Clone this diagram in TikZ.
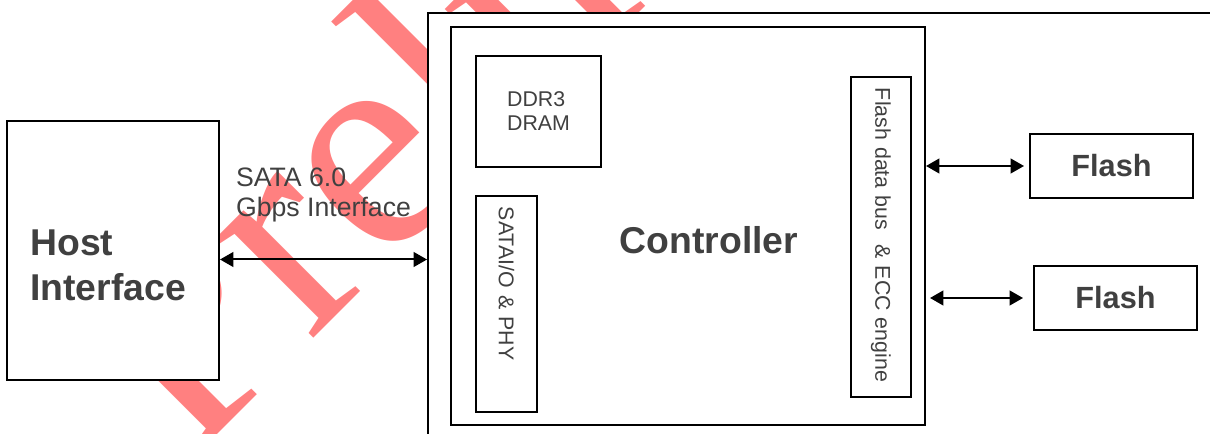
\documentclass[tikz,border=0pt]{standalone}
\usepackage{fontspec}
\setmainfont{Liberation Sans}
\newfontfamily\wmfont{Liberation Serif}
\usetikzlibrary{arrows.meta, positioning}

\definecolor{txtgray}{HTML}{404040}
\definecolor{wmred}{HTML}{FF8080}

\begin{document}
\begin{tikzpicture}[
  x=0.75pt, y=-0.75pt,
  box/.style={draw, line width=1.5pt, fill=white, inner sep=0pt},
  vbox/.style={box, rotate=-90, align=left, inner xsep=8.25pt, inner ysep=0pt, font=\fontsize{16}{18}\selectfont, text=txtgray},
  smalltxt/.style={font=\fontsize{16}{18}\selectfont, text=txtgray},
  bigtxt/.style={font=\fontsize{28}{33.75}\selectfont\bfseries, text=txtgray, inner sep=0pt},
  flashtxt/.style={font=\fontsize{23}{26}\selectfont\bfseries, text=txtgray},
  wmark/.style={font=\wmfont\fontsize{228}{228}\selectfont, text=wmred, inner sep=0pt},
  arrow/.style={{Triangle[length=10pt,width=11pt]}-{Triangle[length=10pt,width=11pt]}, line width=1.5pt}
]

% page frame
\useasboundingbox (0,0) rectangle (1210,434);
\clip (0,0) rectangle (1210,434);

% watermark, behind the boxes
\node[wmark, rotate=45, anchor=base west] (wm) at (190,462) {Preliminary};

% Host
\node[box, minimum width=159pt, minimum height=194.25pt] (host) at (113,250.5) {};
\node[bigtxt, align=left, anchor=north west] (hostlbl) at (30,230) {Host\\Interface};

% Controller
\node[box, anchor=north west, minimum width=607.5pt, minimum height=330pt] (ctrl) at (427,12) {};
\node[box, minimum width=355.5pt, minimum height=298.5pt] (ctrlin) at (688,226) {};
\node[bigtxt] (ctrllbl) at (709,240) {Controller};

\node[box, smalltxt, align=left, minimum width=93.75pt, minimum height=83.25pt] (ddr) at (538.5,111.5) {DDR3\\DRAM};
\node[vbox, text width=145.5pt, minimum height=45.75pt] (sataio) at (506.5,304) {SATAI/O \& PHY};
\node[vbox, text width=223.5pt, minimum height=45pt] (bus) at (881,237) {Flash data bus\ \ \& ECC engine};

% Flash chips
\node[box, flashtxt, minimum width=122.25pt, minimum height=48pt] (flash1) at (1111.5,166) {Flash};
\node[box, flashtxt, minimum width=122.25pt, minimum height=48pt, below=49.5pt of flash1, xshift=3pt] (flash2) {Flash};

% Links
\draw[arrow] ([yshift=-6.75pt]host.east) -- ([yshift=-6.75pt]host.east -| ctrl.west)
  node[midway, above=27pt, font=\fontsize{20}{22.5}\selectfont, text=txtgray, align=left, inner sep=0pt] (satalbl) {SATA 6.0\\Gbps Interface};
\draw[arrow, shorten >=3.75pt] (ctrlin.east |- flash1.west) -- (flash1.west);
\draw[arrow, shorten <=3pt, shorten >=7.5pt] (ctrlin.east |- flash2.west) -- (flash2.west);

\end{tikzpicture}
\end{document}
